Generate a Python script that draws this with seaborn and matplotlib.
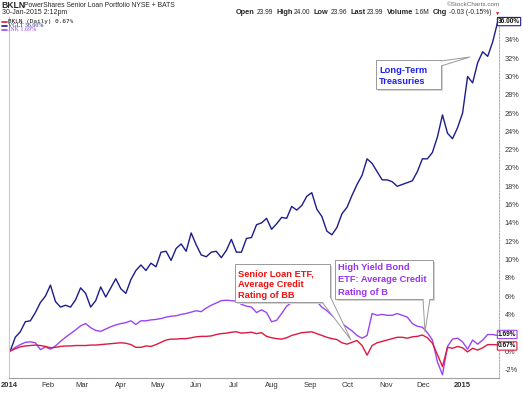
import numpy as np
import pandas as pd
import matplotlib
matplotlib.use("Agg")
import matplotlib.pyplot as plt
from matplotlib.patches import Rectangle, Polygon
import seaborn as sns

# % change since 2 Jan 2014 (98 points to 30 Jan 2015)
vglt = [0.0, 1.5, 2.1, 3.2, 3.3, 4.2, 5.3, 6.0, 7.2, 5.4,
        4.8, 5.0, 4.8, 5.6, 6.9, 6.3, 4.8, 5.5, 7.0, 5.9,
        6.9, 7.9, 6.8, 6.3, 7.8, 8.8, 9.4, 8.8, 9.6, 9.2,
        10.8, 10.9, 9.9, 11.2, 11.7, 10.9, 12.9, 11.6, 10.5, 10.3,
        10.8, 10.9, 10.2, 11.0, 12.2, 10.8, 10.8, 12.3, 12.4, 13.8,
        14.0, 14.5, 13.3, 13.9, 14.6, 14.5, 15.8, 15.4, 15.9, 16.9,
        17.3, 15.5, 14.7, 13.1, 12.7, 13.5, 15.0, 15.7, 17.0, 18.2,
        19.2, 21.0, 20.5, 19.6, 18.7, 18.7, 18.5, 18.0, 18.2, 18.4,
        18.6, 19.6, 21.0, 21.0, 21.7, 23.4, 25.8, 23.8, 23.2, 24.4,
        26.0, 30.0, 29.3, 31.5, 32.7, 32.2, 33.8, 36.0]
jnk = [0.0, 0.4, 0.7, 0.95, 1.0, 0.9, 0.15, 0.45, 0.2, 0.55,
       1.05, 1.5, 1.9, 2.3, 2.75, 3.0, 2.55, 2.25, 2.15, 2.4,
       2.65, 2.85, 3.0, 3.1, 3.3, 2.9, 3.3, 3.3, 3.4, 3.45,
       3.55, 3.7, 3.8, 3.85, 4.0, 4.1, 4.25, 4.4, 4.3, 4.7,
       5.0, 5.25, 5.5, 5.55, 5.5, 5.45, 5.1, 4.9, 4.8, 4.2,
       4.5, 4.2, 3.2, 3.35, 4.1, 4.9, 5.3, 5.4, 5.4, 5.4,
       5.4, 5.4, 4.8, 4.4, 3.9, 3.4, 3.0, 2.6, 2.2, 1.7,
       1.4, 1.7, 4.1, 3.9, 4.0, 3.9, 3.9, 4.1, 3.9, 3.7,
       3.0, 2.7, 2.6, 2.0, 1.2, -1.2, -2.6, 0.5, 1.3, 1.4,
       1.0, 0.2, 1.2, 0.75, 1.2, 1.8, 1.8, 1.69]
bkln = [0.0, 0.25, 0.45, 0.55, 0.6, 0.65, 0.6, 0.5, 0.35, 0.4,
        0.5, 0.55, 0.55, 0.6, 0.6, 0.6, 0.65, 0.65, 0.7, 0.75,
        0.8, 0.85, 0.9, 0.85, 0.7, 0.4, 0.4, 0.55, 0.5, 0.7,
        0.95, 1.2, 1.3, 1.3, 1.35, 1.35, 1.45, 1.55, 1.6, 1.6,
        1.65, 1.8, 1.9, 1.95, 2.05, 2.1, 1.95, 2.0, 2.05, 1.9,
        2.0, 1.6, 1.45, 1.35, 1.3, 1.45, 1.7, 1.85, 2.0, 2.05,
        2.1, 1.9, 1.7, 1.5, 1.35, 1.25, 0.9, 0.75, 0.95, 1.15,
        0.6, -0.45, 0.6, 0.9, 1.05, 1.2, 1.35, 1.5, 1.5, 1.4,
        1.55, 1.6, 1.75, 1.45, 0.85, -0.4, -1.7, 0.4, 0.3, 0.5,
        0.35, -0.1, 0.3, 0.1, 0.35, 0.7, 0.7, 0.67]

month_labels = ['2014', 'Feb', 'Mar', 'Apr', 'May', 'Jun', 'Jul', 'Aug',
                'Sep', 'Oct', 'Nov', 'Dec', '2015']
y_ticks = list(range(-2, 35, 2))

n = len(vglt)
dates = pd.date_range('2014-01-02', '2015-01-30', periods=n)
df = pd.DataFrame({
    'date': np.tile(dates, 3),
    'pct': vglt + jnk + bkln,
    'symbol': ['VGLT'] * n + ['JNK'] * n + ['BKLN'] * n,
})

colors = {'VGLT': '#1c1c8c', 'JNK': '#9b45f2', 'BKLN': '#dc1a40'}

sns.set_style('white')
plt.rcParams['font.family'] = ['Liberation Sans', 'DejaVu Sans']

W, H = 523, 393
fig = plt.figure(figsize=(W / 100, H / 100), dpi=100)
ax = fig.add_axes([9 / W, 1 - 378 / H, (499 - 9) / W, (378 - 17) / H])

sns.lineplot(data=df, x='date', y='pct', hue='symbol', palette=colors,
             hue_order=['VGLT', 'JNK', 'BKLN'], linewidth=1.0,
             legend=False, ax=ax)

ax.set_xlim(pd.Timestamp('2014-01-01'), pd.Timestamp('2015-01-31'))
ax.set_ylim(-2.95, 36.5)
ax.set_xlabel('')
ax.set_ylabel('')

ticks = pd.date_range('2014-01-01', '2015-01-01', freq='MS')
ax.set_xticks(ticks)
ax.set_xticklabels(month_labels)
for lab in ax.get_xticklabels():
    if lab.get_text() in ('2014', '2015'):
        lab.set_fontweight('bold')
        lab.set_color('#111111')
ax.tick_params(axis='x', length=0, pad=3, labelsize=5.5, colors='#333333')

# the 2% label sits under the JNK value tag in the original, so leave it blank
ax.yaxis.tick_right()
ax.set_yticks(y_ticks)
ax.set_yticklabels(['' if v == 2 else f'{v}%' for v in y_ticks])
ax.tick_params(axis='y', length=0, pad=4, labelsize=5.3, colors='#333333')

ax.spines['top'].set_visible(False)
ax.spines['left'].set_color('#c8c8c8')
ax.spines['bottom'].set_color('#a0a0a0')
ax.spines['right'].set_color('#b0b0b0')
ax.spines['right'].set_linestyle((0, (1.5, 1.5)))
for s in ('left', 'bottom', 'right'):
    ax.spines[s].set_linewidth(0.8)


def P(x, y):
    return (x / W, 1 - y / H)


# last value tags on the right edge
tr = ax.get_yaxis_transform()
tags = [('VGLT', vglt[-1], '36.00%'), ('JNK', jnk[-1] + 0.12, '1.69%'),
        ('BKLN', bkln[-1] - 0.12, '0.67%')]
for key, yv, txt in tags:
    ax.text(0.998, yv, txt, transform=tr, ha='left', va='center',
            fontsize=4.7, fontweight='bold', color='#111111', clip_on=False, zorder=5,
            bbox=dict(boxstyle='round,pad=0.1', fc='white', ec=colors[key], lw=0.8))

# header
fig.text(*P(1.5, 5), 'BKLN', fontsize=6.2, fontweight='bold', va='center')
fig.text(*P(24.5, 5.5), 'PowerShares Senior Loan Portfolio NYSE + BATS', fontsize=4.9, va='center')
fig.text(*P(2, 13), '30-Jan-2015 2:12pm', fontsize=5.0, va='center')
fig.text(*P(500, 5), '\u00a9StockCharts.com', fontsize=4.6, color='#666666', va='center', ha='right')

renderer = fig.canvas.get_renderer()
x = 236
parts = [('Open', True), ('23.99', False), ('High', True), ('24.00', False),
         ('Low', True), ('23.96', False), ('Last', True), ('23.99', False),
         ('Volume', True), ('1.6M', False), ('Chg', True), ('-0.03 (-0.15%)', False)]
for s, b in parts:
    t = fig.text(*P(x, 13), s, fontsize=5.3 if b else 4.8,
                 fontweight='bold' if b else 'normal', va='center')
    x += t.get_window_extent(renderer=renderer).width + (1.5 if b else 3.5)
fig.text(*P(x, 13.5), '\u25bc', fontsize=3.8, color='#dd1111', va='center')

# legend in the top-left corner
leg = [('BKLN (Daily) 0.67%', colors['BKLN'], '#111111', 22, 'DejaVu Sans Mono'),
       ('VGLT 36.00%', colors['VGLT'], colors['VGLT'], 25.8, 'Liberation Serif'),
       ('JNK 1.69%', colors['JNK'], colors['JNK'], 29.5, 'Liberation Serif')]
for txt, lc, tc, yy, fam in leg:
    fig.add_artist(plt.Line2D([1.5 / W, 6.5 / W], [1 - yy / H] * 2, color=lc, lw=1.2,
                              transform=fig.transFigure))
    fig.text(*P(8.3, yy), txt, fontsize=4.3, color=tc, va='center', family=fam)


def callout(x0, y0, x1, y1, base, tip, lines, color, ys):
    fig.add_artist(Rectangle(P(x0 + 2, y1 + 2), (x1 - x0) / W, (y1 - y0) / H,
                             transform=fig.transFigure, fc='#d4d4d4', ec='none'))
    fig.add_artist(Polygon([P(*base[0]), P(*tip), P(*base[1])], closed=False,
                           transform=fig.transFigure, fc='white', ec='#999999', lw=0.7,
                           zorder=3))
    fig.add_artist(Rectangle(P(x0, y1), (x1 - x0) / W, (y1 - y0) / H,
                             transform=fig.transFigure, fc='white', ec='#999999', lw=0.7,
                             zorder=2))
    for s, yy in zip(lines, ys):
        fig.text(*P(x0 + 3, yy), s, fontsize=6.7, fontweight='bold', color=color,
                 va='center', zorder=4)


callout(376, 60, 441, 89, [(441, 61), (441, 66)], (470, 57),
        ['Long-Term', 'Treasuries'], '#2020ee', [70.5, 82])
callout(235, 264, 330, 302, [(322, 302), (330, 296)], (351, 340),
        ['Senior Loan ETF,', 'Average Credit', 'Rating of BB'], '#ee1111',
        [273.5, 284.5, 295.5])
callout(335, 260, 433, 299, [(423, 299), (430, 299)], (425, 332),
        ['High Yield Bond', 'ETF: Average Credit', 'Rating of B'], '#9933ee',
        [267.5, 280, 292.5])

fig.savefig('out.png', dpi=100)
